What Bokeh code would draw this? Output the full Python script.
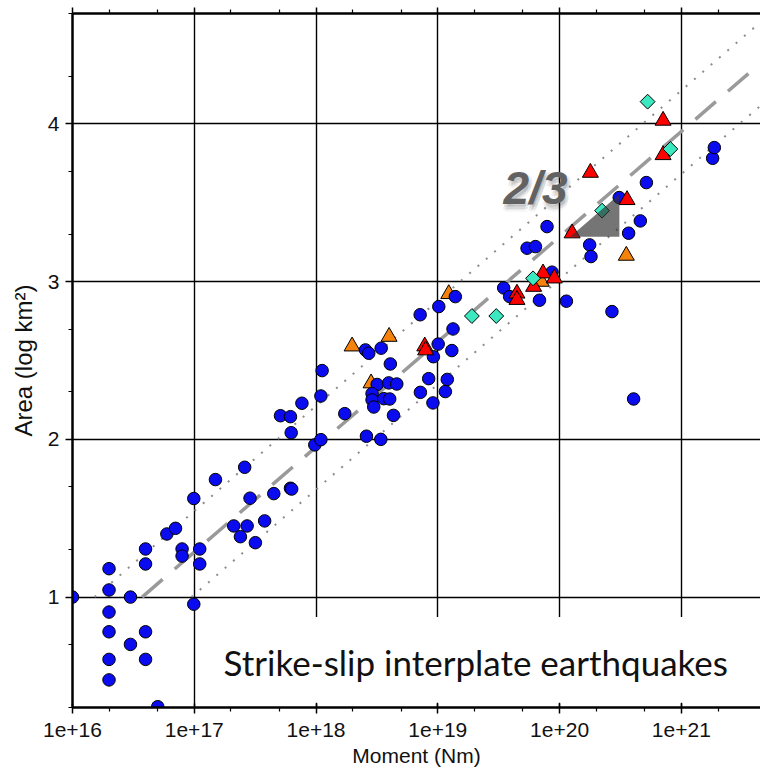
import numpy as np
from bokeh.plotting import figure
from bokeh.models import (FixedTicker, CustomJSTickFormatter, LogAxis,
                          BoxAnnotation, Range1d)
from bokeh.core.properties import value
from bokeh.embed import file_html
from bokeh.resources import INLINE

# ---- catalogue: log10 moment (Nm) and log10 rupture area (km^2) ----
circle_logm = [
    16.00, 16.30, 16.30, 16.30, 16.30, 16.30, 16.30, 16.476, 16.476,
    16.60, 16.60, 16.60, 16.60, 16.70, 16.775, 16.846, 16.90, 16.90,
    16.996, 16.996, 17.045, 17.045, 17.174, 17.324, 17.379, 17.414,
    17.434, 17.458, 17.502, 17.578, 17.653, 17.79, 17.80, 17.708, 17.79,
    17.796, 17.884, 17.99, 18.04, 18.04, 18.05, 18.236, 18.414, 18.532,
    18.406, 18.433, 18.535, 18.61, 18.502, 18.597, 18.663, 18.46, 18.46,
    18.556, 18.605, 18.474, 18.636, 18.857, 18.925, 18.96, 19.062,
    19.078, 18.964, 19.003, 19.115, 19.125, 18.855, 19.008, 19.144,
    19.541, 19.59, 19.835, 20.056, 19.938, 19.733, 19.802, 19.897,
    20.247, 20.258, 20.43, 20.608, 20.49, 20.567, 20.663, 20.713,
    21.257, 21.271,
]
circle_loga = [
    1.00, 1.18, 1.045, 0.905, 0.78, 0.605, 0.475, 1.00, 0.70,
    1.305, 1.21, 0.78, 0.605, 0.305, 1.40, 1.436, 1.305, 1.26,
    1.625, 0.955, 1.305, 1.21, 1.745, 1.451, 1.383, 1.823,
    1.451, 1.627, 1.345, 1.483, 1.656, 1.69, 1.685, 2.15, 2.144,
    2.042, 2.229, 1.965, 1.998, 2.275, 2.436, 2.163, 2.02, 2.00,
    2.567, 2.546, 2.578, 2.478, 2.348, 2.358, 2.351, 2.29, 2.25,
    2.258, 2.256, 2.205, 2.152, 2.298, 2.385, 2.231, 2.303,
    2.38, 2.524, 2.604, 2.563, 2.70, 2.79, 2.842, 2.905,
    2.96, 2.905, 2.882, 2.876, 3.06, 3.212, 3.222, 3.349,
    3.233, 3.159, 2.81, 2.256, 3.533, 3.307, 3.385, 3.628,
    3.782, 3.85,
]

orange_logm = [18.296, 18.60, 18.452, 19.09, 19.85, 20.548]
orange_loga = [2.59, 2.651, 2.356, 2.922, 3.00, 3.165]

red_logm = [18.893, 18.90, 19.65, 19.65, 19.787, 19.864, 19.957,
            20.103, 20.253, 20.554, 20.85, 20.85]
red_loga = [2.59, 2.565, 2.925, 2.885, 2.968, 3.053, 3.021,
            3.307, 3.691, 3.518, 4.021, 3.803]

diamond_logm = [19.28, 19.48, 19.782, 20.349, 20.723, 20.91]
diamond_loga = [2.782, 2.782, 3.021, 3.45, 4.141, 3.841]

# scaling law log A = slope * log M + intercept, with two bounding lines
SLOPE = 2.0 / 3.0
INTERCEPT = -10.048
UPPER_SHIFT = 0.26
LOWER_SHIFT = -0.27
AREA_FLOOR = 1.0
LOGM_MAX = 21.65

x_tick_exponents = [16, 17, 18, 19, 20, 21]
y_ticks = [1, 2, 3, 4]


def pow10(vals):
    return [10.0 ** v for v in vals]


p = figure(width=760, height=772, x_axis_type="log",
           x_range=Range1d(1e16, 10.0 ** LOGM_MAX), y_range=Range1d(0.3, 4.7),
           output_backend="svg", toolbar_location=None,
           min_border_left=72, min_border_right=0,
           min_border_top=13, min_border_bottom=65)
p.outline_line_color = None
p.background_fill_color = "white"

# ---- ticks, grid and axes ----
xticker = FixedTicker(ticks=[10.0 ** k for k in x_tick_exponents],
                      minor_ticks=[m * 10.0 ** k for k in range(15, 22) for m in (2, 5)])
yticker = FixedTicker(ticks=y_ticks,
                      minor_ticks=[k + float(np.log10(m)) for k in range(0, 5) for m in (2, 5)])

p.xaxis.ticker = xticker
p.yaxis.ticker = yticker
p.xaxis.formatter = CustomJSTickFormatter(
    code="return '1e+' + Math.round(Math.log10(tick));")

p.xgrid.ticker = xticker
p.ygrid.ticker = yticker
p.grid.grid_line_color = "black"
p.grid.grid_line_width = 1.4

for ax in (p.xaxis[0], p.yaxis[0]):
    ax.axis_line_width = 2.5
    ax.axis_line_color = "black"
    ax.major_tick_line_width = 1.5
    ax.minor_tick_line_width = 1.2
    ax.major_tick_line_color = "black"
    ax.minor_tick_line_color = "black"
    ax.major_label_text_font = "Liberation Sans"
    ax.major_label_text_font_size = "21px"
    ax.major_label_text_color = "#111111"
    ax.axis_label_text_font = "Liberation Sans"
    ax.axis_label_text_font_style = "normal"
    ax.axis_label_text_color = "#111111"

p.xaxis.axis_label = "Moment (Nm)"
p.xaxis.axis_label_text_font_size = "21px"
p.xaxis.major_tick_in = 4
p.xaxis.major_tick_out = 6
p.xaxis.minor_tick_in = 0
p.xaxis.minor_tick_out = 4
p.xaxis.major_label_standoff = 9
p.xaxis.axis_label_standoff = 4

p.yaxis.axis_label = "Area (log km²)"
p.yaxis.axis_label_text_font_size = "24px"
p.yaxis.major_tick_in = 0
p.yaxis.major_tick_out = 7
p.yaxis.minor_tick_in = 0
p.yaxis.minor_tick_out = 4
p.yaxis.major_label_standoff = 6
p.yaxis.axis_label_standoff = 8

# frame edge along the top: ticks only, labels hidden
top_axis = LogAxis(ticker=xticker, axis_line_width=2.5,
                   major_tick_in=0, major_tick_out=6,
                   minor_tick_in=0, minor_tick_out=4,
                   major_tick_line_width=1.5, minor_tick_line_width=1.2,
                   major_label_text_font_size="1px", major_label_text_alpha=0.0,
                   major_label_standoff=0)
p.add_layout(top_axis, "above")

# white panel behind the caption, hiding the grid there
p.add_layout(BoxAnnotation(left=10.0 ** 17.09, right=10.0 ** 22, bottom=0.33, top=0.874,
                           fill_color="white", fill_alpha=1.0, line_color=None,
                           level="underlay"))

# ---- scaling law lines ----
def law_line(shift):
    b = INTERCEPT + shift
    m0 = (AREA_FLOOR - b) / SLOPE
    ms = [m0, LOGM_MAX]
    return pow10(ms), [SLOPE * m + b for m in ms]


for shift in (UPPER_SHIFT, LOWER_SHIFT):
    lx, ly = law_line(shift)
    p.line(lx, ly, line_color="#8c8c8c", line_width=2, line_dash="2 9")

lx, ly = law_line(0.0)
p.line(lx, ly, line_color="#9a9a9a", line_width=3.5, line_dash="27 16")

# ---- events ----
p.scatter(pow10(orange_logm), orange_loga, marker="triangle", size=16,
          fill_color="#f5820a", line_color="black", line_width=1)
p.scatter(pow10(circle_logm), circle_loga, marker="circle", size=12.5,
          fill_color="#0b0bf0", line_color="black", line_width=1)
p.scatter(pow10(red_logm), red_loga, marker="triangle", size=16,
          fill_color="#ff0000", line_color="black", line_width=1)
p.scatter(pow10(diamond_logm), diamond_loga, marker="square", angle=np.pi / 4,
          size=10.5, fill_color="#3ce8c0", line_color="black", line_width=1)

# ---- slope triangle with its 2/3 label ----
tri_m0, tri_m1, tri_a0 = 20.088, 20.491, 3.285
tri_a1 = tri_a0 + SLOPE * (tri_m1 - tri_m0)
p.patch(pow10([tri_m0, tri_m1, tri_m1]), [tri_a0, tri_a0, tri_a1],
        fill_color="#333333", fill_alpha=0.68, line_color=None)

lab_x, lab_y = 10.0 ** 19.54, 3.594
for dx, dy, a in [(1, 3, 0.08), (3, 5, 0.08), (0, 6, 0.06), (4, 2, 0.06), (2, 8, 0.04)]:
    p.text([lab_x], [lab_y], text=["2/3"], x_offset=dx, y_offset=dy,
           text_font=value("Liberation Sans"), text_font_size="46px",
           text_font_style="bold italic", text_color="black", text_alpha=a,
           text_baseline="alphabetic", text_align="left")
p.text([lab_x], [lab_y], text=["2/3"], text_font=value("Liberation Sans"),
       text_font_size="46px", text_font_style="bold italic",
       text_color="#626262", text_baseline="alphabetic", text_align="left")

p.text([10.0 ** 17.24], [0.588], text=["Strike-slip interplate earthquakes"],
       text_font=value("Lato"), text_font_size="35px", text_color="#111111",
       text_baseline="middle", text_align="left")

open("out.html", "w").write(file_html(p, INLINE))
